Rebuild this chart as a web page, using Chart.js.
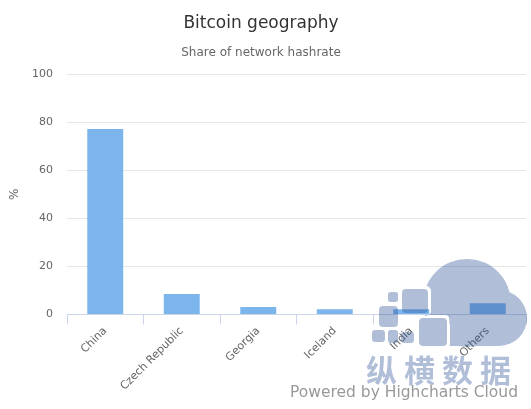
<!DOCTYPE html>
<html>
<head>
<meta charset="utf-8">
<script src="https://cdn.jsdelivr.net/npm/chart.js@4"></script>
<style>
  html, body { margin: 0; padding: 0; background: #fff; }
</style>
</head>
<body>
<canvas id="chart" width="531" height="409"></canvas>
<script>
var categories = ['China', 'Czech Republic', 'Georgia', 'Iceland', 'India', 'Others'];
var hashrate = [77.1, 8.5, 3.1, 2.2, 2.2, 4.7];
var yTickValues = [0, 20, 40, 60, 80, 100];
var chartTitle = 'Bitcoin geography';
var chartSubtitle = 'Share of network hashrate';

var FONT = '"DejaVu Sans", Verdana, sans-serif';

// logo squares: x, y, w, h
var logoSquares = [
  [388, 292, 10, 10], [402, 289, 26, 24], [379, 306, 19, 21], [419, 318, 28, 28],
  [372, 330, 13, 12], [388, 330, 10, 13], [401, 332, 13, 11]
];

function rrPath(ctx, x, y, w, h, r) {
  ctx.moveTo(x + r, y);
  ctx.arcTo(x + w, y, x + w, y + h, r);
  ctx.arcTo(x + w, y + h, x, y + h, r);
  ctx.arcTo(x, y + h, x, y, r);
  ctx.arcTo(x, y, x + w, y, r);
  ctx.closePath();
}

// title + subtitle centred like highcharts (slightly left of the middle)
var titles = {
  id: 'titles',
  afterDraw: function(chart) {
    var ctx = chart.ctx;
    ctx.save();
    ctx.textAlign = 'center';
    ctx.textBaseline = 'alphabetic';
    ctx.fillStyle = '#333333';
    ctx.font = '17px ' + FONT;
    ctx.fillText(chartTitle, 261, 28);
    ctx.fillStyle = '#666666';
    ctx.font = '12px ' + FONT;
    ctx.fillText(chartSubtitle, 261, 56);
    ctx.restore();
  }
};

// watermark: cloud logo + text drawn on top like in the screenshot
var watermark = {
  id: 'watermark',
  afterDraw: function(chart) {
    var ctx = chart.ctx;
    ctx.save();
    ctx.globalAlpha = 0.37;
    ctx.fillStyle = 'rgb(40, 80, 150)';

    // cloud, with gaps cut out around the squares
    ctx.save();
    ctx.beginPath();
    ctx.rect(0, 0, 531, 409);
    logoSquares.forEach(function(s) {
      rrPath(ctx, s[0] - 3, s[1] - 3, s[2] + 6, s[3] + 6, 5);
    });
    ctx.clip('evenodd');
    ctx.beginPath();
    ctx.arc(467, 303, 44, 0, Math.PI * 2);
    ctx.moveTo(527, 318);
    ctx.arc(499, 318, 28, 0, Math.PI * 2);
    ctx.rect(449, 303, 50, 43);
    ctx.fill('nonzero');
    ctx.restore();

    ctx.beginPath();
    logoSquares.forEach(function(s) {
      rrPath(ctx, s[0], s[1], s[2], s[3], Math.min(4, s[2] / 4));
    });
    ctx.fill();

    // chinese name
    ctx.font = 'bold 31px "Noto Sans CJK SC"';
    ctx.textBaseline = 'middle';
    ctx.textAlign = 'left';
    var chars = ['纵', '横', '数', '据'];
    for (var i = 0; i < chars.length; i++) {
      ctx.fillText(chars[i], 366 + i * 38, 370);
    }
    ctx.restore();

    ctx.save();
    ctx.fillStyle = '#999999';
    ctx.font = '15.5px ' + FONT;
    ctx.textAlign = 'right';
    ctx.textBaseline = 'middle';
    ctx.fillText('Powered by Highcharts Cloud', 518, 393);
    ctx.restore();
  }
};

new Chart(document.getElementById('chart'), {
  type: 'bar',
  data: {
    labels: categories,
    datasets: [{
      label: 'Share',
      data: hashrate,
      backgroundColor: '#7cb5ec',
      borderWidth: 0,
      categoryPercentage: 1.0,
      barPercentage: 0.47
    }]
  },
  options: {
    responsive: false,
    animation: false,
    events: [],
    layout: { padding: { left: 4, right: 5, top: 74, bottom: 16 } },
    plugins: {
      legend: { display: false },
      tooltip: { enabled: false }
    },
    scales: {
      x: {
        grid: { drawOnChartArea: false, offset: true, tickLength: 10, color: '#ccd6eb' },
        border: { color: '#ccd6eb' },
        ticks: { color: '#666666', font: { family: FONT, size: 11 }, minRotation: 45, maxRotation: 45, padding: 0 }
      },
      y: {
        min: 0,
        max: 100,
        afterBuildTicks: function(axis) {
          axis.ticks = yTickValues.map(function(v) { return { value: v }; });
        },
        afterFit: function(axis) { axis.width = 63; },
        grid: { color: '#e6e6e6', drawTicks: false },
        border: { display: false },
        ticks: { color: '#666666', font: { family: FONT, size: 11 }, padding: 14 },
        title: { display: true, text: '%', color: '#666666', font: { family: FONT, size: 12 }, padding: { top: 4, bottom: 0 } }
      }
    }
  },
  plugins: [titles, watermark]
});
</script>
</body>
</html>
